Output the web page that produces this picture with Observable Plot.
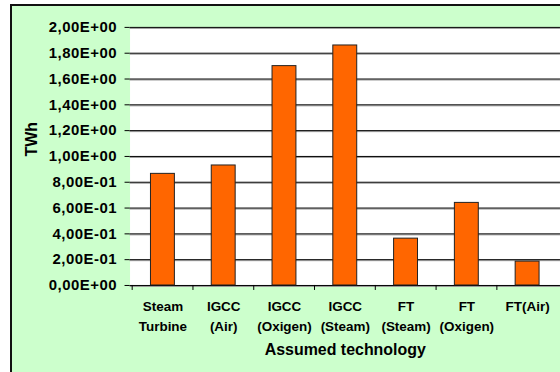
<!DOCTYPE html>
<html><head><meta charset="utf-8">
<script src="https://cdn.jsdelivr.net/npm/d3@7"></script>
<script src="https://cdn.jsdelivr.net/npm/@observablehq/plot@0.6"></script>
<style>
html,body{margin:0;padding:0;background:#fff;}
body{width:560px;height:372px;overflow:hidden;position:relative;font-family:"Liberation Sans",Arial,sans-serif;}
#frame{position:absolute;left:10px;top:4px;width:600px;height:400px;background:#CCFFCC;border-left:2px solid #111;border-top:2px solid #111;}
#chart{position:absolute;left:0;top:0;}
.ylab text{letter-spacing:0.5px;}
</style></head><body><div id="frame"></div><div id="chart"></div>
<script>
const categories = ["Steam\nTurbine", "IGCC\n(Air)", "IGCC\n(Oxigen)", "IGCC\n(Steam)", "FT\n(Steam)", "FT\n(Oxigen)", "FT(Air)"];
const values = [0.865, 0.93, 1.70, 1.86, 0.363, 0.64, 0.185];
const yTicks = [0, 0.2, 0.4, 0.6, 0.8, 1.0, 1.2, 1.4, 1.6, 1.8, 2.0];
const yTickLabels = ["0,00E+00", "2,00E-01", "4,00E-01", "6,00E-01", "8,00E-01", "1,00E+00", "1,20E+00", "1,40E+00", "1,60E+00", "1,80E+00", "2,00E+00"];
const xTitle = "Assumed technology";
const yTitle = "TWh";

const data = categories.map((c, i) => ({tech: c, twh: values[i]}));
const yLabelData = yTicks.map((t, i) => ({t, label: yTickLabels[i]}));
const W = 562, ML = 130;
const step = (W - ML) / categories.length;
const font = '"Liberation Sans", Arial, sans-serif';

const chart = Plot.plot({
  width: W, height: 372,
  marginLeft: ML, marginRight: 0, marginTop: 27, marginBottom: 86,
  style: {background: "transparent", fontFamily: font, color: "#000", overflow: "visible"},
  x: {domain: categories, paddingInner: 0.6, paddingOuter: 0.3, axis: null},
  y: {domain: [0, 2], axis: null},
  marks: [
    Plot.frame({fill: "#fff", stroke: "none"}),
    Plot.ruleY(yTicks, {stroke: "#999", dy: 1}),
    Plot.ruleY(yTicks, {stroke: "#000"}),
    Plot.barY(data, {x: "tech", y: "twh", fill: "#FF6600", stroke: "#222", strokeWidth: 1}),
    Plot.axisY({ticks: yTicks, tickSize: 5, line: true, label: null, tickFormat: () => ""}),
    Plot.text(yLabelData, {y: "t", text: "label", frameAnchor: "left", textAnchor: "end",
      dx: -13, fontSize: 15, fontWeight: "bold", className: "ylab"}),
    Plot.axisX({tickSize: 5, tickFormat: () => "", dx: -step / 2, label: null}),
    Plot.text(categories, {x: d => d, text: d => d, frameAnchor: "bottom", lineAnchor: "top",
      dy: 12, lineHeight: 1.45, fontSize: 13.5, fontWeight: "bold"}),
    Plot.text([yTitle], {frameAnchor: "left", rotate: -90, dx: -99, fontSize: 16, fontWeight: "bold"}),
    Plot.text([xTitle], {frameAnchor: "bottom", dy: 70, fontSize: 16, fontWeight: "bold"})
  ]
});
document.getElementById("chart").appendChild(chart);
</script>
</body></html>
